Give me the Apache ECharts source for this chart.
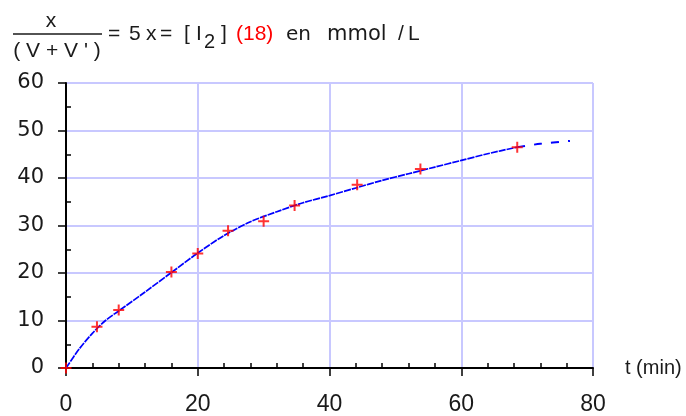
<!DOCTYPE html>
<html>
<head>
<meta charset="utf-8">
<script src="https://cdn.jsdelivr.net/npm/echarts@6/dist/echarts.min.js"></script>
<style>html,body{margin:0;padding:0;background:#fff}#c{width:686px;height:416px}</style>
</head>
<body>
<div id="c"></div>
<script>
// measured points (t in min, [I2] in mmol/L)
const measTimes = [0, 4.7, 8, 16, 20, 24.6, 30, 34.7, 44.2, 53.8, 68.5];
const measConc  = [0, 8.7, 12.2, 20.2, 24.1, 28.9, 30.9, 34.2, 38.6, 41.9, 46.5];
// fitted curve
const fitTimes = [0, 2, 4, 6, 8, 12, 16, 20, 24, 28, 32, 36, 40, 44, 48, 52, 56, 60, 64, 68.5];
const fitConc  = [0, 4.0, 7.3, 10.0, 12.0, 16.0, 20.1, 24.2, 27.9, 30.8, 32.9, 34.8, 36.3, 37.9, 39.5, 40.9, 42.3, 43.7, 45.1, 46.5];
// extrapolated (dashed) part
const extTimes = [68.5, 72, 76.5];
const extConc  = [46.5, 47.2, 47.8];
const xMin = 0, xMax = 80, xStep = 20;
const yMin = 0, yMax = 60, yStep = 10;
const xName = 't (min)';

const zip = (a, b) => a.map((v, i) => [v, b[i]]);
const plusPath = 'path://M5,0L5,10M0,5L10,5';
const baseFont = 'Liberation Sans, Arial, sans-serif';
const wideFont = 'DejaVu Sans, Liberation Sans, sans-serif';
const ink = '#1a1a1a';
const gridColor = '#c8c8ff';

const T = (text, x, y, opts) => ({
  type: 'text', x: x, y: y,
  style: Object.assign({text: text, fontSize: 21, fontFamily: baseFont, fill: ink, align: 'left', verticalAlign: 'middle'}, opts || {})
});

const chart = echarts.init(document.getElementById('c'), null, {renderer: 'canvas'});
chart.setOption({
  animation: false,
  backgroundColor: '#fff',
  grid: {left: 66, right: 93, top: 83, bottom: 47, containLabel: false},
  xAxis: [{
    type: 'value', position: 'bottom', min: xMin, max: xMax, interval: xStep,
    name: xName, nameLocation: 'end', nameGap: 32,
    nameTextStyle: {color: ink, fontSize: 20, fontFamily: baseFont, verticalAlign: 'middle'},
    axisLine: {show: true, onZero: false, lineStyle: {color: '#000', width: 2}},
    axisTick: {show: true, length: 8, lineStyle: {color: '#000', width: 1.5}},
    axisLabel: {color: ink, fontSize: 23, fontFamily: baseFont, margin: 25},
    splitLine: {show: true, lineStyle: {color: gridColor, width: 2}}
  }, {
    type: 'value', position: 'bottom', min: xMin, max: xMax, interval: xStep,
    axisLine: {show: false}, axisLabel: {show: false}, splitLine: {show: false},
    axisTick: {show: false, inside: true},
    minorTick: {show: true, splitNumber: 5, length: 5, lineStyle: {color: '#000', width: 1.5}}
  }],
  yAxis: [{
    type: 'value', position: 'left', min: yMin, max: yMax, interval: yStep,
    axisLine: {show: true, onZero: false, lineStyle: {color: '#000', width: 2}},
    axisTick: {show: true, length: 8, lineStyle: {color: '#000', width: 1.5}},
    axisLabel: {color: ink, fontSize: 21, fontFamily: wideFont, margin: 22, padding: [4, 0, 0, 0]},
    splitLine: {show: true, lineStyle: {color: gridColor, width: 2}}
  }, {
    type: 'value', position: 'left', min: yMin, max: yMax, interval: yStep,
    axisLine: {show: false}, axisLabel: {show: false}, splitLine: {show: false},
    axisTick: {show: false, inside: true},
    minorTick: {show: true, splitNumber: 2, length: 5, lineStyle: {color: '#000', width: 1.5}}
  }],
  series: [{
    type: 'line', data: zip(fitTimes, fitConc), smooth: 0.3, showSymbol: false, symbol: 'none',
    lineStyle: {color: '#0000ff', width: 1.7, type: [7, 1]}, z: 3
  }, {
    type: 'line', data: zip(extTimes, extConc), smooth: 0.3, showSymbol: false, symbol: 'none',
    lineStyle: {color: '#0000ff', width: 2, type: [8, 9]}, z: 3
  }, {
    type: 'scatter', data: zip(measTimes, measConc), symbol: plusPath, symbolSize: 11,
    itemStyle: {color: 'transparent', borderColor: '#ff0000', borderWidth: 2}, z: 4
  }],
  graphic: [
    T('x', 51, 21, {align: 'center'}),
    {type: 'line', shape: {x1: 13, y1: 34, x2: 102, y2: 34}, style: {stroke: ink, lineWidth: 1.4}},
    T('( V + V \' )', 57, 51, {align: 'center'}),
    T('=', 108, 34.5),
    T('5', 129, 34.5),
    T('x', 146, 34.5),
    T('=', 160, 34.5),
    T('[', 184, 34.5),
    T('I', 196, 34.5),
    T('2', 204, 42.5, {fontSize: 20}),
    T(']', 221, 34.5),
    T('(18)', 236, 34.5, {fill: '#ff0000'}),
    T('en', 286, 34.5, {fontFamily: wideFont, fontSize: 20}),
    T('mmol', 327, 34.5, {fontFamily: wideFont, fontSize: 21}),
    T('/', 398, 34.5),
    T('L', 408, 34.5)
  ]
});
</script>
</body>
</html>
